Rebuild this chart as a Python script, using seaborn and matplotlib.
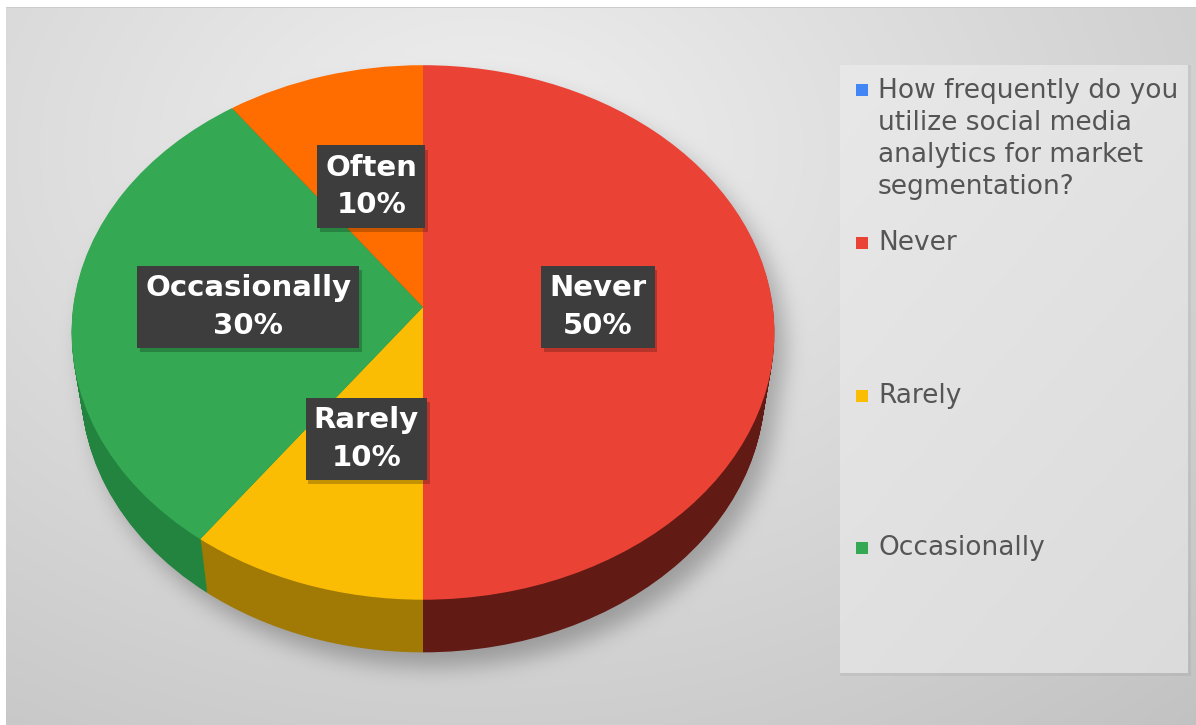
import numpy as np
import matplotlib
matplotlib.use("Agg")
import matplotlib.pyplot as plt
import matplotlib.transforms as mtransforms
import matplotlib.patheffects as pe
from matplotlib.patches import Rectangle
import seaborn as sns

# ---- data -------------------------------------------------------------
categories = ["Never", "Rarely", "Occasionally", "Often"]
shares = [50, 10, 30, 10]
question = ("How frequently do you\nutilize social media\n"
            "analytics for market\nsegmentation?")
legend_entries = ["Never", "Rarely", "Occasionally"]

# ---- styling ----------------------------------------------------------
top_colors = {"Never": "#EA4335", "Rarely": "#FBBC04",
              "Occasionally": "#34A853", "Often": "#FF6D01"}
side_colors = {"Never": "#621a14", "Rarely": "#a07a04",
               "Occasionally": "#22843f", "Often": "#a34604"}
question_color = "#4285F4"
text_grey = "#555555"

sns.set_theme(style="white")
plt.rcParams["font.family"] = ["DejaVu Sans"]

W, H = 1196, 725
fig = plt.figure(figsize=(W / 100, H / 100), dpi=100)
ax = fig.add_axes([0, 0, 1, 1])

# camera looking down on the disc: pixel position of the centre,
# focal length, distance and elevation
CX, CY = 423.0, 307.0
FOCAL, DIST = 2400.0, 6.86
SIN_E = 0.757
COS_E = np.sqrt(1 - SIN_E ** 2)
THICK = 0.25


class TiltedDisk(mtransforms.Transform):
    """Perspective view of the unit disc lying at a given height."""
    input_dims = output_dims = 2
    is_separable = False
    has_inverse = False

    def __init__(self, height):
        super().__init__()
        self.height = height

    def transform_non_affine(self, values):
        values = np.asarray(values, dtype=float).reshape(-1, 2)
        u, v = values[:, 0], values[:, 1]
        y = v * SIN_E + self.height * COS_E
        z = DIST + v * COS_E - self.height * SIN_E
        return np.column_stack([CX + FOCAL * u / z, CY - FOCAL * y / z])


# ---- background with soft drop shadow ---------------------------------
yy, xx = np.mgrid[0:H, 0:W].astype(float)
r = np.hypot((xx - 480) / 900, (yy - 150) / 650)
bg = 0.94 - 0.15 * np.clip(r, 0, 1.3)


def disk_mask(w):
    yup = CY - yy
    den = FOCAL * SIN_E - yup * COS_E
    v = (yup * (DIST - w * SIN_E) - FOCAL * w * COS_E) / den
    z = DIST + v * COS_E - w * SIN_E
    u = (xx - CX) * z / FOCAL
    return ((u ** 2 + v ** 2) <= 1) & (den > 0)


def box_blur(a, rad):
    for axis in (0, 1):
        a = np.swapaxes(a, 0, axis)
        p = np.pad(a, ((rad + 1, rad), (0, 0)), mode="edge")
        c = np.cumsum(p, axis=0)
        a = (c[2 * rad + 1:] - c[:-2 * rad - 1]) / (2 * rad + 1)
        a = np.swapaxes(a, 0, axis)
    return a


sil = np.zeros((H, W))
for w in np.linspace(-THICK, 0, 10):
    sil = np.maximum(sil, disk_mask(w).astype(float))
sil = np.roll(np.roll(sil, 14, axis=0), 10, axis=1)
for _ in range(3):
    sil = box_blur(sil, 10)
bg = bg - 0.22 * sil

# legend panel
lx0, lx1, ly0, ly1 = 840, 1188, 65, 673
panel = 0.91 - 0.03 * (yy - ly0) / (ly1 - ly0) - 0.02 * (xx - lx0) / (lx1 - lx0)
inside = (xx >= lx0) & (xx < lx1) & (yy >= ly0) & (yy < ly1)
edge = ((xx >= lx1) & (xx < lx1 + 3) & (yy >= ly0) & (yy < ly1 + 3)) | \
       ((yy >= ly1) & (yy < ly1 + 3) & (xx >= lx0) & (xx < lx1 + 3))
bg = np.where(inside, panel, bg)
bg = np.where(edge, bg - 0.04, bg)

# white margin at the top and left
bg[:7, :] = 1.0
bg[:, :6] = 1.0
bg[7, 6:] = 0.80

ax.imshow(np.dstack([bg] * 3).clip(0, 1), extent=(0, W, H, 0),
          interpolation="bilinear", zorder=0)

# ---- extruded pie: stacked darker layers, then the top face ------------
for w in np.linspace(-THICK, -0.004, 48):
    wedges, texts = ax.pie(shares, colors=[side_colors[c] for c in categories],
                           startangle=90, counterclock=False,
                           wedgeprops=dict(linewidth=0))
    tr = TiltedDisk(w) + ax.transData
    for wd in wedges:
        wd.set_transform(tr)
        wd.set_zorder(2)
    for t in texts:
        t.remove()

labels = [f"{c}\n{s}%" for c, s in zip(categories, shares)]
wedges, texts = ax.pie(shares, colors=[top_colors[c] for c in categories],
                       startangle=90, counterclock=False, labels=labels,
                       labeldistance=0.5,
                       wedgeprops=dict(linewidth=0.6, edgecolor="none"))
tr_top = TiltedDisk(0.0) + ax.transData
for wd in wedges:
    wd.set_transform(tr_top)
    wd.set_zorder(3)
for t in texts:
    t.set_transform(tr_top)
    t.set(ha="center", va="center", multialignment="center", color="white",
          fontsize=21, fontweight="bold", linespacing=1.45, zorder=5)
    t.set_bbox(dict(boxstyle="square,pad=0.28", facecolor="#3d3d3d",
                    edgecolor="none"))
    t.get_bbox_patch().set_path_effects(
        [pe.SimplePatchShadow(offset=(2, -3), shadow_rgbFace="black", alpha=0.22),
         pe.Normal()])

# ---- legend -----------------------------------------------------------
sq = 12
ax.add_patch(Rectangle((856, 90 - sq / 2), sq, sq, facecolor=question_color,
                       edgecolor="none", zorder=4))
ax.text(878, 78, question, ha="left", va="top", fontsize=19,
        color=text_grey, linespacing=1.3, zorder=4)
legend_y = {"Never": 243, "Rarely": 396, "Occasionally": 548}
for name in legend_entries:
    y = legend_y[name]
    ax.add_patch(Rectangle((856, y - sq / 2), sq, sq, facecolor=top_colors[name],
                           edgecolor="none", zorder=4))
    ax.text(878, y, name, ha="left", va="center", fontsize=19,
            color=text_grey, zorder=4)

ax.set_xlim(0, W)
ax.set_ylim(H, 0)
ax.set_aspect("auto")
ax.axis("off")

fig.savefig("out.png", dpi=100)
